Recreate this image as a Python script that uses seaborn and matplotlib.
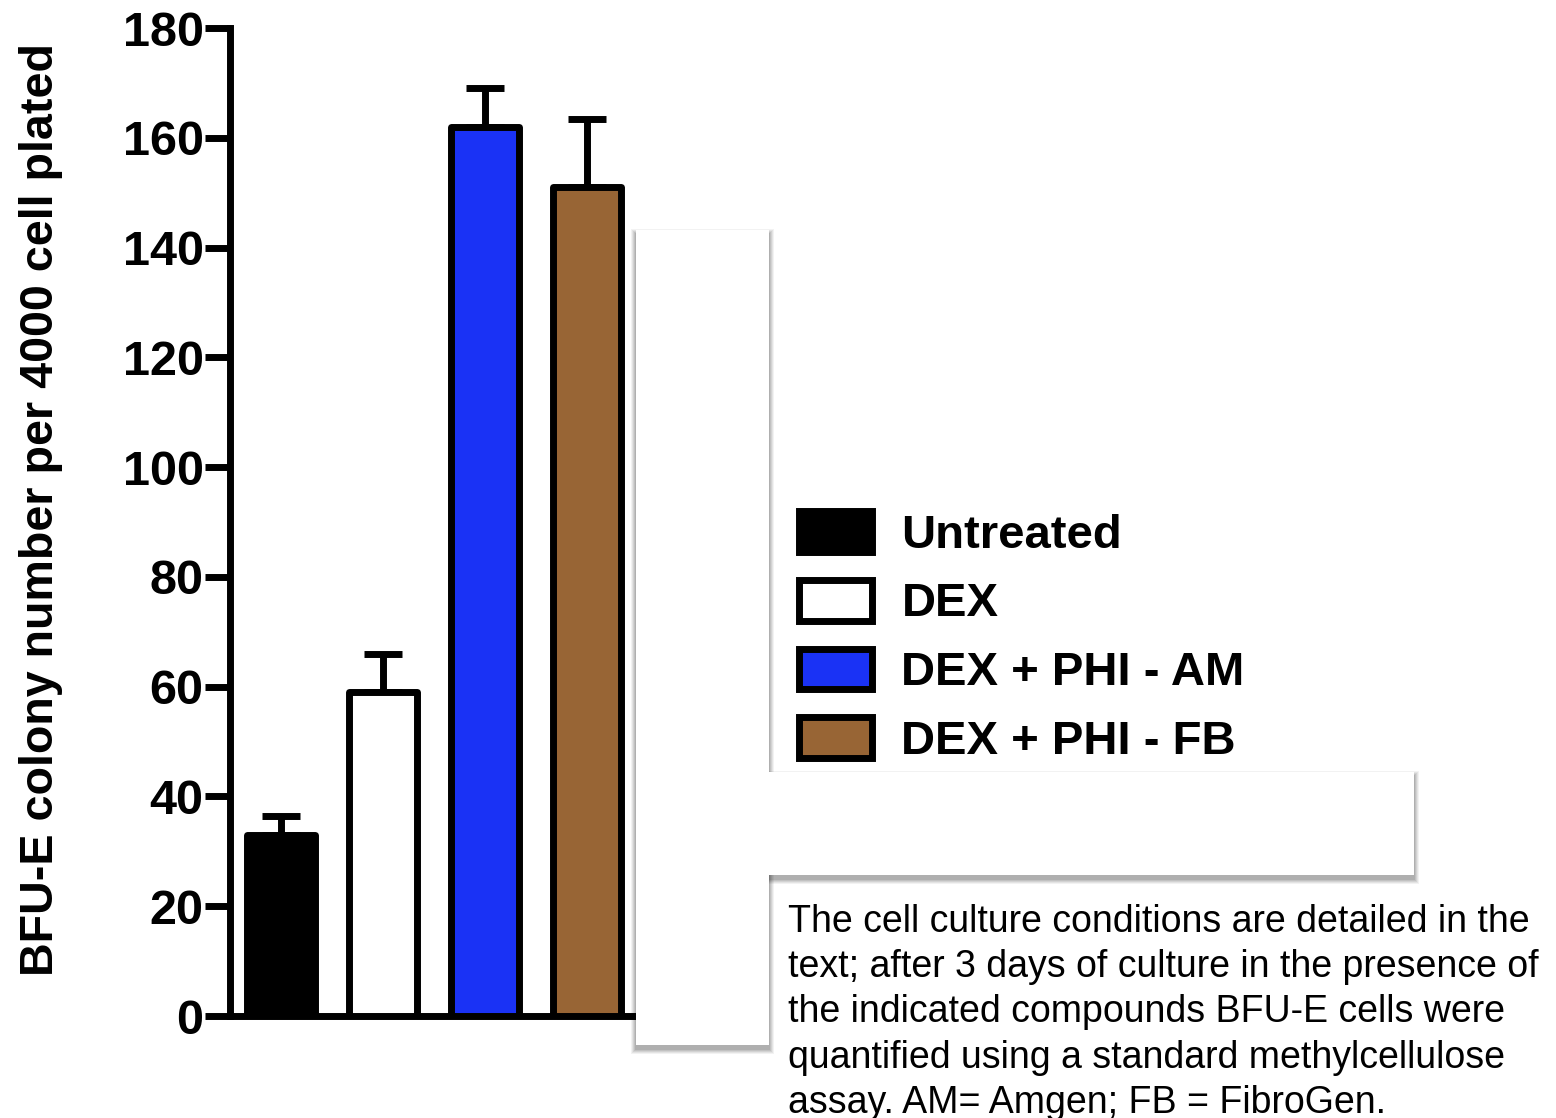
import matplotlib
matplotlib.use("Agg")
import matplotlib.pyplot as plt
from matplotlib.patches import Rectangle, Patch
import seaborn as sns
import pandas as pd

# Group names, means and upper error (SEM) for the BFU-E colony assay
groups = ["Untreated", "DEX", "DEX + PHI - AM", "DEX + PHI - FB"]
colony_means = [33, 59, 162, 151]
colony_err = [3.5, 7, 7, 12.5]
bar_colors = ["#000000", "#ffffff", "#1a32f5", "#986535"]
y_ticks = [0, 20, 40, 60, 80, 100, 120, 140, 160, 180]

caption = ("The cell culture conditions are detailed in the\n"
           "text; after 3 days of culture in the presence of\n"
           "the indicated compounds BFU-E cells were\n"
           "quantified using a standard methylcellulose\n"
           "assay. AM= Amgen; FB = FibroGen.")

sns.set_theme(style="ticks")
plt.rcParams["font.family"] = ["Liberation Sans", "DejaVu Sans"]
for key in ("text.color", "axes.labelcolor", "xtick.color", "ytick.color",
            "axes.edgecolor"):
    plt.rcParams[key] = "black"

W, H = 1556, 1118
LW = 5.0
fig = plt.figure(figsize=(W / 100, H / 100), dpi=100)
ax = fig.add_axes([230 / W, 1 - 1016 / H, 408 / W, 988 / H])

df = pd.DataFrame({"group": groups, "value": colony_means})
sns.barplot(data=df, x="group", y="value", hue="group", order=groups,
            hue_order=groups, palette=bar_colors, saturation=1, width=0.66,
            edgecolor="black", linewidth=LW, dodge=False, legend=False,
            errorbar=None, ax=ax, zorder=3)
for p in ax.patches:
    p.set_joinstyle("round")

# one-sided error bars
_, caps, bars = ax.errorbar(range(len(groups)), colony_means,
                            yerr=[[0] * len(groups), colony_err], fmt="none",
                            ecolor="black", elinewidth=LW, capsize=14,
                            capthick=LW, zorder=2)
for c in caps:
    c.set_solid_capstyle("round")

ax.set_xlim(-0.5, 3.5)
ax.set_ylim(0, 180)
ax.set_yticks(y_ticks)
ax.set_xticks([])
ax.set_xlabel("")
sns.despine(ax=ax, top=True, right=True)
for s in ("left", "bottom"):
    ax.spines[s].set_linewidth(LW)
    ax.spines[s].set_color("black")
ax.spines["left"].set_capstyle("projecting")
ax.tick_params(axis="y", length=18, width=LW, color="black", pad=1,
               labelsize=35, labelcolor="black")
for t in ax.get_yticklabels():
    t.set_fontweight("bold")
ax.set_ylabel("BFU-E colony number per 4000 cell plated", fontsize=33.6,
              fontweight="bold", color="black")
ax.yaxis.set_label_coords(-0.41, 0.513)
ax.set_facecolor("white")

# legend
handles = [Patch(facecolor=c, edgecolor="black", linewidth=LW)
           for c in bar_colors]
leg = fig.legend(handles, groups, loc="upper left",
                 bbox_to_anchor=(799 / W, 1 - 511 / H),
                 bbox_transform=fig.transFigure, frameon=False,
                 prop={"family": "Liberation Sans", "weight": "bold",
                       "size": 34},
                 handlelength=1.55, handleheight=0.95, handletextpad=0.62,
                 labelspacing=0.47, borderpad=0, borderaxespad=0)
for t in leg.get_texts():
    t.set_color("black")


# white panels with soft shadow overlaying the plot
def panel(x0, y0, x1, y1):
    for i, a in enumerate([0.05, 0.06, 0.07, 0.08, 0.09]):
        grow = 5 - i
        fig.patches.append(Rectangle(
            ((x0 - grow) / W, 1 - (y1 + 4 + grow) / H),
            (x1 - x0 + 2 * grow) / W, (y1 - y0 + 2 * grow) / H,
            transform=fig.transFigure, facecolor="black", edgecolor="none",
            alpha=a, zorder=10))
    fig.patches.append(Rectangle(
        (x0 / W, 1 - y1 / H), (x1 - x0) / W, (y1 - y0) / H,
        transform=fig.transFigure, facecolor="white", edgecolor="none",
        zorder=11))


panel(768, 772, 1414, 875)
panel(636, 230, 769, 1045)

fig.text(788 / W, 1 - 904 / H, caption, ha="left", va="top", fontsize=27,
         family="Liberation Sans", color="black", linespacing=1.33,
         zorder=12)

fig.savefig("out.png", dpi=100, facecolor="white")
